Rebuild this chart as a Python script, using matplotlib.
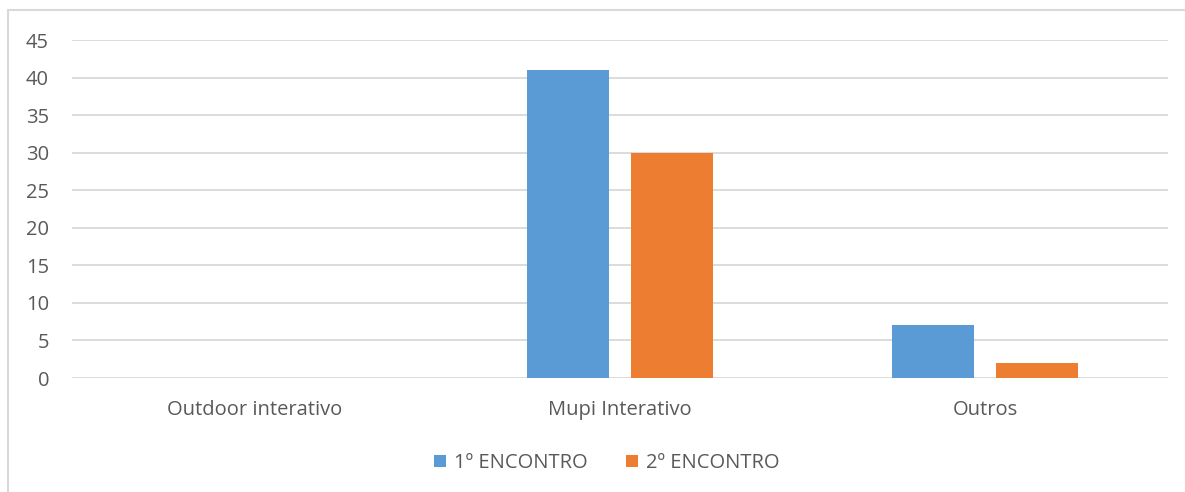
import matplotlib
matplotlib.use("Agg")
import matplotlib.pyplot as plt
from matplotlib.patches import Rectangle
import numpy as np

categories = ["Outdoor interativo", "Mupi Interativo", "Outros"]
series_names = ["1º ENCONTRO", "2º ENCONTRO"]
encontro1 = [0, 41, 7]
encontro2 = [0, 30, 2]
colors = ["#5B9BD5", "#ED7D31"]
yticks = [0, 5, 10, 15, 20, 25, 30, 35, 40, 45]

plt.rcParams['font.family'] = ['Open Sans', 'DejaVu Sans']
W, H = 1185, 492
fig = plt.figure(figsize=(W/100, H/100), dpi=100)

# outer chart border (right/bottom cut off)
fig.patches.append(Rectangle((8/W, -0.1), 1.2, 1 - 10/H + 0.1, transform=fig.transFigure,
                             fill=False, edgecolor="#D9D9D9", linewidth=1.5))

left, right = 72, 1168
top, bottom = 40, 378
ax = fig.add_axes([left/W, 1 - bottom/H, (right-left)/W, (bottom-top)/H])

x = np.arange(len(categories))
bw = 0.2245
off = 0.142
ax.bar(x - off, encontro1, bw, color=colors[0], label=series_names[0], zorder=3)
ax.bar(x + off, encontro2, bw, color=colors[1], label=series_names[1], zorder=3)

ax.set_xlim(-0.5, len(categories) - 0.5)
ax.set_ylim(0, 45)
ax.set_yticks(yticks)
ax.yaxis.grid(True, color="#D9D9D9", linewidth=1.3, zorder=0)
ax.set_axisbelow(True)
for s in ax.spines.values():
    s.set_visible(False)
ax.tick_params(axis='both', length=0, colors="#595959", labelsize=14.5)
ax.tick_params(axis='y', pad=16.5)
ax.tick_params(axis='x', pad=16)
ax.set_xticks(x)
ax.set_xticklabels(categories)

leg = fig.legend(loc='center', bbox_to_anchor=(607/W, 1 - 463/H), ncol=2, frameon=False,
                 fontsize=14.5, handlelength=0.6, handleheight=0.6, handletextpad=0.4,
                 columnspacing=1.9, labelcolor="#595959")

fig.savefig("out.png", dpi=100)
